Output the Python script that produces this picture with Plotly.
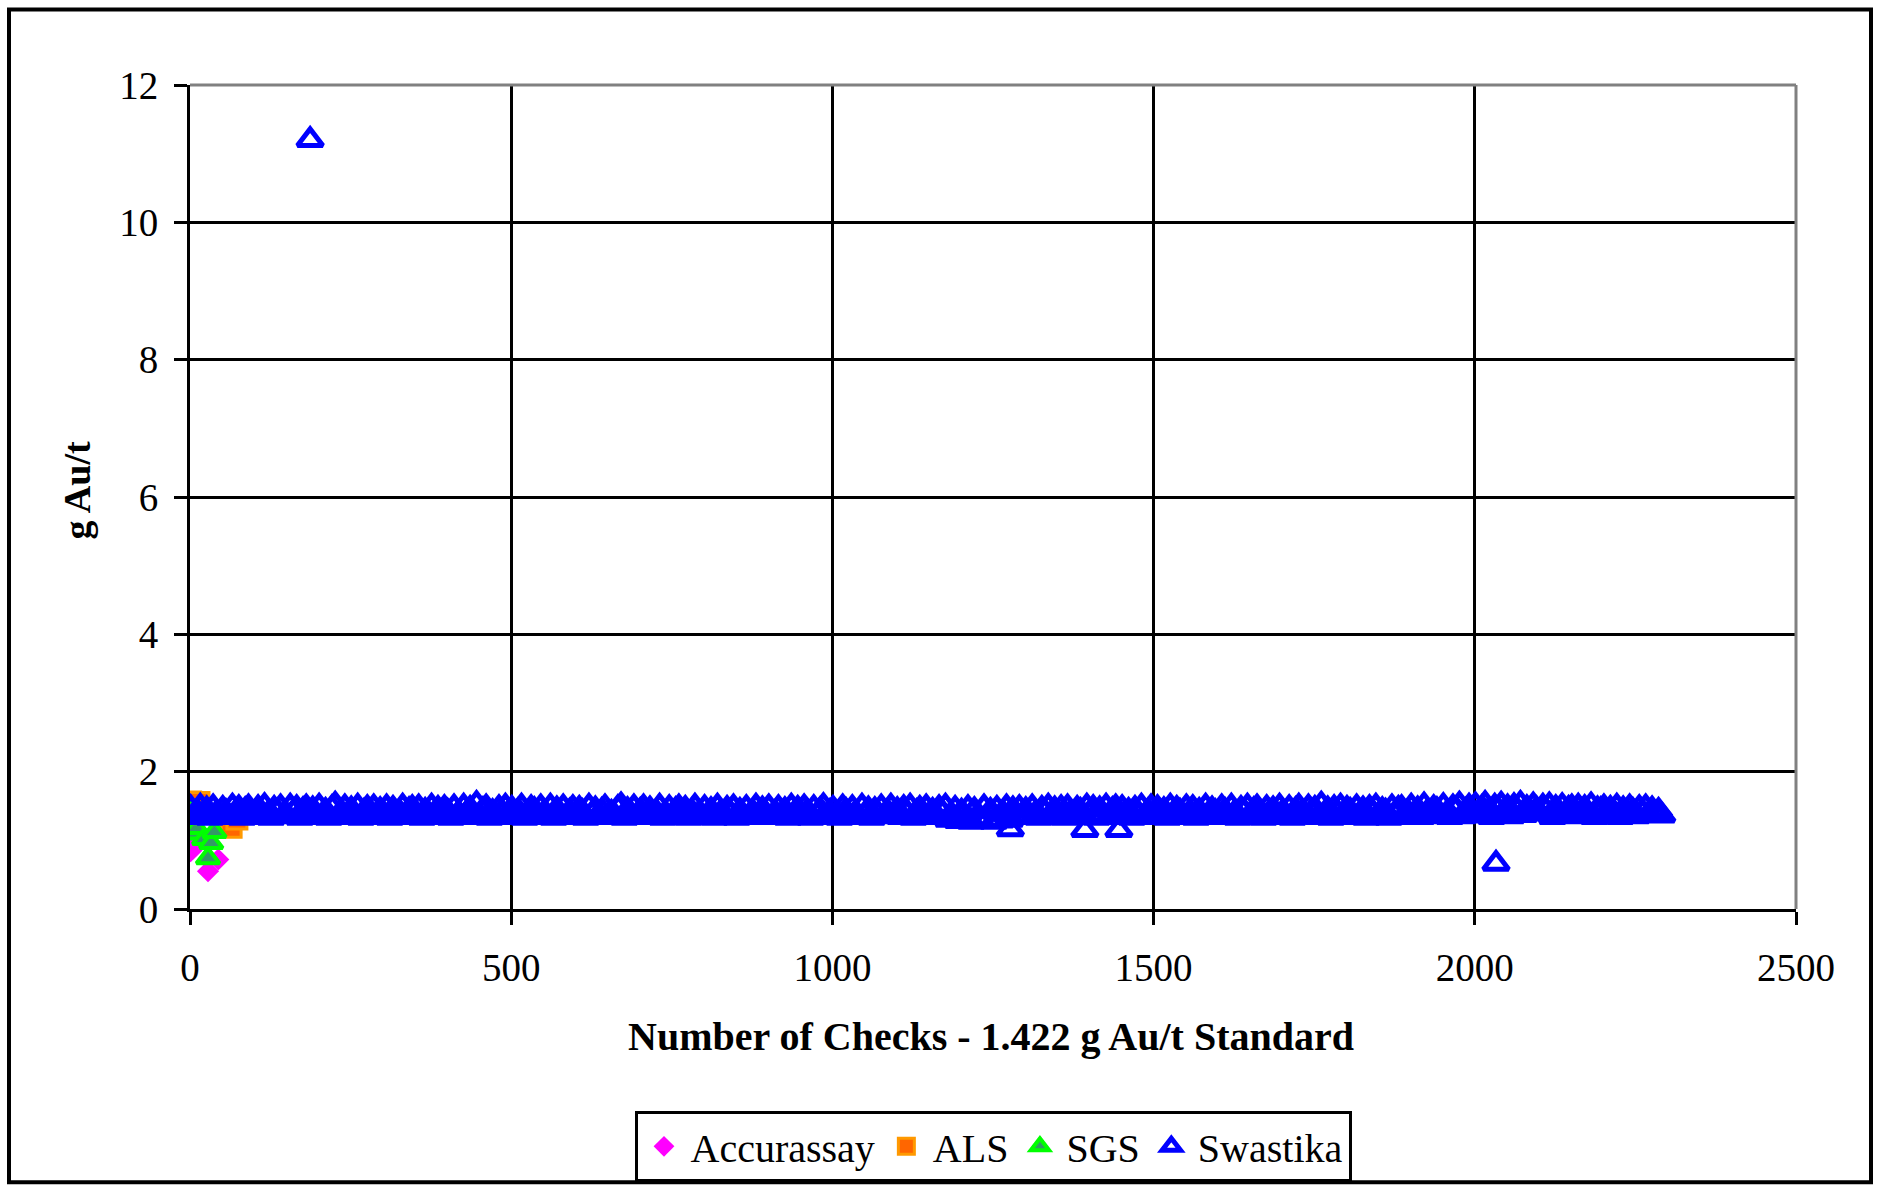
import plotly.graph_objects as go

# ---- Data -------------------------------------------------------------
# Swastika: repeat assays of the 1.422 g Au/t standard, one value per 5th check
swastika_first_check = 1
swastika_check_step = 5
swastika_band_values = [
    1.47, 1.34, 1.42, 1.49, 1.36, 1.45, 1.33, 1.48, 1.39, 1.35, 1.46, 1.41, 1.34, 1.49, 1.37, 1.47, 1.33, 1.44, 1.48, 1.35,
    1.40, 1.47, 1.34, 1.50, 1.38, 1.33, 1.46, 1.42, 1.48, 1.35, 1.36, 1.49, 1.41, 1.47, 1.33, 1.44, 1.48, 1.34, 1.45, 1.37,
    1.49, 1.35, 1.43, 1.33, 1.47, 1.52, 1.36, 1.40, 1.48, 1.34, 1.45, 1.37, 1.49, 1.33, 1.42, 1.47, 1.35, 1.48, 1.34, 1.44,
    1.38, 1.48, 1.33, 1.46, 1.35, 1.41, 1.49, 1.34, 1.44, 1.47, 1.36, 1.48, 1.33, 1.43, 1.39, 1.49, 1.35, 1.46, 1.34, 1.47,
    1.42, 1.33, 1.48, 1.37, 1.35, 1.49, 1.40, 1.46, 1.34, 1.53, 1.36, 1.44, 1.48, 1.33, 1.41, 1.35, 1.47, 1.38, 1.49, 1.34,
    1.46, 1.35, 1.43, 1.49, 1.33, 1.38, 1.47, 1.44, 1.34, 1.48, 1.40, 1.36, 1.49, 1.33, 1.45, 1.37, 1.48, 1.35, 1.42, 1.47,
    1.34, 1.46, 1.41, 1.33, 1.49, 1.38, 1.45, 1.35, 1.43, 1.48, 1.34, 1.40, 1.36, 1.47, 1.51, 1.33, 1.44, 1.39, 1.48, 1.35,
    1.43, 1.48, 1.34, 1.45, 1.36, 1.41, 1.49, 1.33, 1.38, 1.47, 1.35, 1.44, 1.48, 1.34, 1.46, 1.33, 1.42, 1.49, 1.37, 1.35,
    1.47, 1.36, 1.44, 1.33, 1.49, 1.40, 1.35, 1.46, 1.38, 1.48, 1.33, 1.43, 1.36, 1.47, 1.34, 1.41, 1.49, 1.35, 1.45, 1.39,
    1.48, 1.34, 1.40, 1.47, 1.36, 1.44, 1.33, 1.49, 1.39, 1.46, 1.35, 1.48, 1.42, 1.33, 1.47, 1.37, 1.44, 1.50, 1.34, 1.41,
    1.46, 1.38, 1.33, 1.48, 1.43, 1.35, 1.47, 1.40, 1.34, 1.49, 1.37, 1.45, 1.33, 1.44, 1.39, 1.48, 1.35, 1.42, 1.49, 1.36,
    1.44, 1.34, 1.47, 1.39, 1.49, 1.33, 1.41, 1.46, 1.35, 1.48, 1.37, 1.43, 1.34, 1.47, 1.40, 1.49, 1.30, 1.33, 1.46, 1.28,
    1.42, 1.29, 1.47, 1.27, 1.44, 1.31, 1.28, 1.48, 1.30, 1.43, 1.27, 1.46, 1.29, 1.39, 1.48, 1.30, 1.45, 1.34, 1.47, 1.36,
    1.44, 1.35, 1.48, 1.39, 1.33, 1.46, 1.41, 1.49, 1.34, 1.45, 1.37, 1.47, 1.33, 1.48, 1.40, 1.35, 1.46, 1.43, 1.34, 1.49,
    1.38, 1.47, 1.33, 1.45, 1.36, 1.49, 1.34, 1.44, 1.48, 1.35, 1.47, 1.39, 1.43, 1.33, 1.46, 1.37, 1.49, 1.34, 1.42, 1.48,
    1.35, 1.47, 1.40, 1.44, 1.33, 1.49, 1.38, 1.46, 1.42, 1.34, 1.48, 1.36, 1.47, 1.33, 1.43, 1.35, 1.49, 1.39, 1.45, 1.41,
    1.34, 1.48, 1.43, 1.36, 1.49, 1.40, 1.33, 1.46, 1.42, 1.49, 1.35, 1.44, 1.48, 1.38, 1.33, 1.47, 1.41, 1.45, 1.34, 1.49,
    1.41, 1.35, 1.47, 1.33, 1.44, 1.49, 1.39, 1.36, 1.48, 1.42, 1.46, 1.34, 1.52, 1.37, 1.45, 1.33, 1.47, 1.40, 1.49, 1.35,
    1.46, 1.43, 1.34, 1.48, 1.38, 1.45, 1.33, 1.47, 1.40, 1.49, 1.35, 1.44, 1.42, 1.33, 1.48, 1.37, 1.46, 1.47, 1.34, 1.41,
    1.49, 1.36, 1.45, 1.34, 1.51, 1.41, 1.35, 1.47, 1.44, 1.37, 1.50, 1.39, 1.34, 1.48, 1.45, 1.52, 1.35, 1.43, 1.49, 1.40,
    1.51, 1.36, 1.47, 1.53, 1.42, 1.34, 1.49, 1.45, 1.52, 1.38, 1.48, 1.35, 1.50, 1.43, 1.53, 1.37, 1.47, 1.40, 1.51, 1.45,
    1.39, 1.49, 1.43, 1.51, 1.34, 1.47, 1.41, 1.50, 1.36, 1.46, 1.48, 1.35, 1.49, 1.42, 1.47, 1.38, 1.51, 1.34, 1.45, 1.44,
    1.48, 1.36, 1.46, 1.41, 1.49, 1.34, 1.45, 1.39, 1.48, 1.43, 1.35, 1.47, 1.40, 1.48, 1.37, 1.45, 1.38, 1.43, 1.36,
]
swastika_outlier_checks = [187, 1277, 1393, 1446, 2033]
swastika_outlier_values = [11.2, 1.16, 1.15, 1.15, 0.66]

accurassay_checks = [1, 5, 12, 28, 44]
accurassay_values = [0.84, 0.88, 1.02, 0.55, 0.72]

als_checks = [1, 2, 5, 14, 64, 73]
als_values = [1.56, 1.50, 1.44, 1.55, 1.19, 1.31]

sgs_checks = [1, 3, 10, 22, 28, 33, 38]
sgs_values = [1.45, 1.10, 1.18, 1.02, 0.74, 0.96, 1.12]

x_ticks = [0, 500, 1000, 1500, 2000, 2500]
y_ticks = [0, 2, 4, 6, 8, 10, 12]

# ---- Figure -----------------------------------------------------------
swastika_checks = [swastika_first_check + swastika_check_step * i
                   for i in range(len(swastika_band_values))] + swastika_outlier_checks
swastika_values = swastika_band_values + swastika_outlier_values

SERIF = "Liberation Serif, Times New Roman, serif"

fig = go.Figure()

fig.add_trace(go.Scatter(
    x=accurassay_checks, y=accurassay_values, mode="markers", name="Accurassay",
    marker=dict(symbol="diamond", size=17, color="#FF00FF", line=dict(width=0)),
))
fig.add_trace(go.Scatter(
    x=als_checks, y=als_values, mode="markers", name="ALS",
    marker=dict(symbol="square", size=20, color="#FF6600",
                line=dict(color="#FF9900", width=3)),
))
fig.add_trace(go.Scatter(
    x=sgs_checks, y=sgs_values, mode="markers", name="SGS",
    marker=dict(symbol="triangle-up", size=20, color="#339966",
                line=dict(color="#00FF00", width=4)),
))
fig.add_trace(go.Scatter(
    x=swastika_checks, y=swastika_values, mode="markers", name="Swastika",
    marker=dict(symbol="triangle-up-open", size=22, color="#0000FF",
                line=dict(color="#0000FF", width=5)),
))

axis_common = dict(
    showgrid=True, gridcolor="black", gridwidth=3,
    showline=True, linecolor="black", linewidth=3,
    ticks="outside", ticklen=13, tickwidth=3, tickcolor="black",
    zeroline=False, mirror=False,
    tickfont=dict(family=SERIF, size=39, color="black"),
)

fig.update_xaxes(range=[0, 2500], tickvals=x_ticks, ticktext=[str(v) for v in x_ticks],
                 ticklabelstandoff=9, **axis_common)
fig.update_yaxes(range=[0, 12], tickvals=y_ticks, ticktext=[str(v) for v in y_ticks],
                 ticklabelstandoff=8, **axis_common)

# Plot-area frame on the top and right edges (grey)
fig.add_shape(type="line", xref="paper", yref="paper", x0=0, x1=1, y0=1, y1=1,
              line=dict(color="#808080", width=3), layer="above")
fig.add_shape(type="line", xref="paper", yref="paper", x0=1, x1=1, y0=0, y1=1,
              line=dict(color="#808080", width=3), layer="above")

# Outer chart border
L, T, W, H = 190, 85, 1606, 829
def px_x(p):
    return (p - L) / W
def px_y(p):
    return (T + H - p) / H
fig.add_shape(type="rect", xref="paper", yref="paper",
              x0=px_x(9), x1=px_x(1871), y0=px_y(9), y1=px_y(1189),
              line=dict(color="black", width=4), fillcolor="rgba(0,0,0,0)", layer="above")

fig.add_annotation(text="<b>Number of Checks - 1.422 g Au/t Standard</b>",
                   xref="paper", yref="paper", x=px_x(991), y=px_y(1042),
                   xanchor="center", yanchor="middle", showarrow=False,
                   font=dict(family=SERIF, size=40, color="black"))
fig.add_annotation(text="<b>g Au/t</b>", textangle=-90,
                   xref="paper", yref="paper", x=px_x(77), y=px_y(493),
                   xanchor="center", yanchor="middle", showarrow=False,
                   font=dict(family=SERIF, size=38, color="black"))

fig.update_layout(
    width=1879, height=1194,
    margin=dict(l=L, r=1879 - L - W, t=T, b=1194 - T - H),
    paper_bgcolor="white", plot_bgcolor="white",
    showlegend=True,
    legend=dict(orientation="h", x=0.5, xanchor="center", y=px_y(1117), yanchor="top",
                bordercolor="black", borderwidth=3, bgcolor="white",
                font=dict(family=SERIF, size=40, color="black"),
                itemwidth=43, tracegroupgap=0),
)

fig.write_html("out.html")
